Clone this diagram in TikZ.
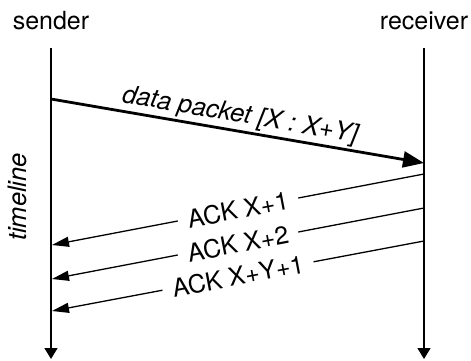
\documentclass[tikz,border=0pt]{standalone}
\usepackage{fontspec}
\setmainfont{TeX Gyre Heros}
\usetikzlibrary{arrows.meta}
\tikzset{
  lbl/.style={font=\fontsize{25}{30}\selectfont},
  ilbl/.style={font=\fontsize{25.5}{30}\selectfont\itshape},
  life/.style={line width=1.4pt,-{Triangle[width=13pt,length=11pt]}},
  data/.style={line width=2.8pt,-{Triangle[width=16pt,length=21pt]}},
  ack/.style={line width=1.3pt,-{Triangle[width=10pt,length=17pt]}},
  acklbl/.style={lbl,fill=white,sloped,inner xsep=10pt,inner ysep=1pt,midway}
}
\begin{document}
\begin{tikzpicture}[x=1pt,y=-1pt]
\useasboundingbox (0,0) rectangle (471,360);
\node[lbl,anchor=base] (sender) at (51,29) {sender};
\node[lbl,anchor=base] (receiver) at (424,29) {receiver};
\coordinate (s0) at (51,48);
\coordinate (s1) at (51,359);
\coordinate (r0) at (424,48);
\coordinate (r1) at (424,359);
\draw[life] (s0) -- (s1);
\draw[life] (r0) -- (r1);
\node[ilbl,rotate=90] (timeline) at (17,197) {timeline};
\coordinate (d0) at (51,99);
\coordinate (d1) at (424,163);
\draw[data] (d0) -- node[ilbl,sloped,above=2pt,inner sep=0pt] (dlabel) {data packet [X : X+Y]} (d1);
\coordinate (a1r) at (424,174);
\coordinate (a1s) at (52,245);
\coordinate (a2r) at (424,208);
\coordinate (a2s) at (52,279);
\coordinate (a3r) at (424,241);
\coordinate (a3s) at (52,311);
\draw[ack] (a1r) -- node[acklbl] (l1) {ACK X+1} (a1s);
\draw[ack] (a2r) -- node[acklbl] (l2) {ACK X+2} (a2s);
\draw[ack] (a3r) -- node[acklbl] (l3) {ACK X+Y+1} (a3s);
\end{tikzpicture}
\end{document}
